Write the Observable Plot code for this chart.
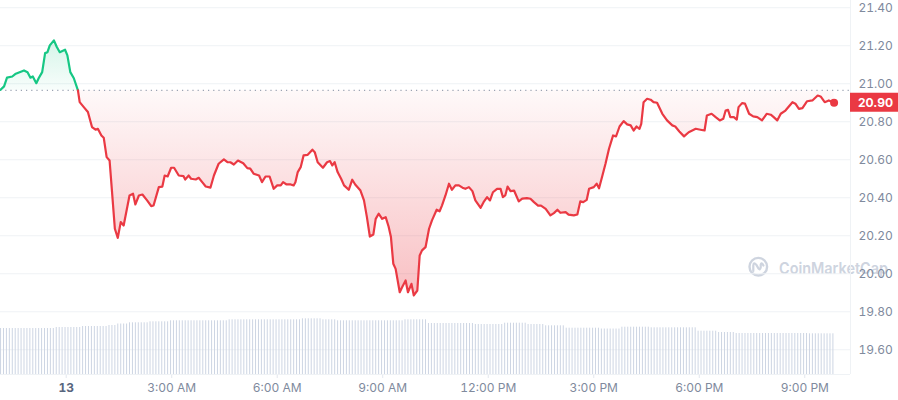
<!DOCTYPE html>
<html><head><meta charset="utf-8">
<script src="https://cdn.jsdelivr.net/npm/d3@7"></script>
<script src="https://cdn.jsdelivr.net/npm/@observablehq/plot@0.6"></script>
<style>
body{margin:0;background:#fff;font-family:Inter,"Noto Sans",sans-serif;}
#wrap{position:relative;width:898px;height:400px;overflow:hidden;}
#wrap svg{position:absolute;left:0;top:0;}
#wrap [aria-label="x-axis tick"]{stroke:#e3e7ee;}
</style></head><body><div id="wrap"></div>
<script>
// minutes relative to 00:00 on the 13th
const minutes = [
-112,-106,-101,-92,-86,-72,-66,-61,-57,-51,
-47,-41,-36,-32,-28,-21,-16,-11,-2,2,
7,13,20,23,30,37,44,50,54,60,
64,69,74,78,83,88,93,98,108,114,
118,124,130,138,145,149,158,164,168,173,
179,184,192,200,203,209,213,221,226,232,
238,246,252,260,269,275,280,286,293,302,
309,314,320,329,334,340,347,354,360,366,
370,376,383,388,391,395,400,405,412,420,
424,429,438,445,450,454,458,463,469,474,
482,488,493,502,508,513,518,524,528,533,
539,545,550,554,558,562,569,573,579,583,
589,593,599,603,607,613,619,624,632,637,
641,647,653,658,664,670,676,681,687,693,
698,707,712,718,723,728,735,741,745,749,
753,758,764,772,778,786,792,798,805,810,
818,826,832,838,843,852,857,866,872,877,
882,888,892,900,905,909,914,920,926,933,
938,944,951,957,963,968,973,978,981,985,
991,997,1002,1008,1017,1025,1034,1039,1046,1054,
1062,1074,1082,1089,1093,1101,1108,1115,1121,1125,
1129,1133,1139,1144,1147,1153,1158,1165,1172,1179,
1187,1195,1202,1207,1213,1219,1227,1239,1244,1250,
1256,1264,1273,1282,1287,1294,1301,1310];
const prices = [
20.968,20.986,21.032,21.038,21.053,21.070,21.061,21.032,21.038,21.003,
21.029,21.061,21.161,21.166,21.202,21.228,21.193,21.166,21.179,21.149,
21.061,21.029,20.965,20.903,20.877,20.851,20.772,20.758,20.763,20.728,
20.716,20.614,20.596,20.438,20.237,20.189,20.272,20.254,20.412,20.421,
20.365,20.412,20.417,20.386,20.356,20.359,20.456,20.459,20.517,20.512,
20.558,20.558,20.517,20.514,20.496,20.517,20.500,20.496,20.505,20.482,
20.459,20.453,20.517,20.579,20.602,20.587,20.587,20.575,20.596,20.582,
20.556,20.553,20.526,20.517,20.482,20.512,20.512,20.447,20.465,20.465,
20.482,20.470,20.470,20.465,20.482,20.535,20.561,20.623,20.626,20.653,
20.640,20.587,20.558,20.587,20.593,20.570,20.587,20.535,20.500,20.465,
20.442,20.495,20.470,20.438,20.386,20.298,20.196,20.207,20.289,20.316,
20.289,20.298,20.249,20.193,20.053,20.026,19.903,19.929,19.965,19.903,
19.947,19.886,19.912,20.096,20.123,20.140,20.237,20.281,20.337,20.329,
20.359,20.412,20.474,20.442,20.465,20.465,20.453,20.447,20.456,20.435,
20.386,20.347,20.377,20.403,20.386,20.429,20.447,20.447,20.403,20.412,
20.459,20.435,20.438,20.381,20.395,20.398,20.395,20.377,20.359,20.359,
20.342,20.307,20.319,20.337,20.321,20.324,20.311,20.307,20.312,20.381,
20.377,20.389,20.447,20.456,20.474,20.450,20.508,20.579,20.658,20.728,
20.723,20.775,20.803,20.786,20.781,20.754,20.775,20.763,20.789,20.903,
20.921,20.916,20.903,20.900,20.842,20.807,20.781,20.775,20.749,20.723,
20.745,20.763,20.758,20.754,20.833,20.842,20.824,20.807,20.816,20.859,
20.863,20.824,20.824,20.811,20.877,20.898,20.895,20.842,20.828,20.824,
20.807,20.842,20.837,20.824,20.807,20.842,20.859,20.903,20.895,20.868,
20.872,20.908,20.912,20.938,20.933,20.903,20.912,20.900];
const openPrice = 20.965;

// volume (relative units), step levels starting at given minute
const volStart = [-112,-18,28,70,84,105,140,178,275,403,434,463,574,615,698,746,784,818,852,912,946,997,1077,1111,1142,1265];
const volValue = [46,47,48,49,50.5,51.7,52.7,53.7,54.7,55.7,54.7,53.7,54.7,51,50,51.3,50,48.7,46.3,45.5,47.3,46.7,43.3,42,41,40.7];
const volFirstBar = -112, volLastBar = 1308, volStep = 5;

const yTicks = [19.6, 19.8, 20.0, 20.2, 20.4, 20.6, 20.8, 21.0, 21.2, 21.4];
const xTickHours = [0, 3, 6, 9, 12, 15, 18, 21];
const xTickLabels = ["13", "3:00 AM", "6:00 AM", "9:00 AM", "12:00 PM", "3:00 PM", "6:00 PM", "9:00 PM"];

const base = Date.UTC(2024, 1, 13);
const toDate = m => new Date(base + m * 60000);
const data = minutes.map((m, i) => ({t: toDate(m), p: prices[i]}));
const k = data.findIndex(d => d.p <= openPrice);
const green = data.slice(0, k + 1), red = data.slice(k);
const last = data[data.length - 1];

const bars = [];
for (let m = volFirstBar; m <= volLastBar; m += volStep) {
  let j = 0;
  while (j + 1 < volStart.length && volStart[j + 1] <= m) j++;
  bars.push({t: toDate(m), v: volValue[j]});
}

const xDomain = [toDate(-112.1), toDate(1338)];
const yDomain = [19.47, 21.438];
const W = 898, H = 400, mR = 48, mB = 26;
const grid = "#eff2f5";

const price = Plot.plot({
  width: W, height: H, marginLeft: 0, marginRight: mR, marginTop: 0, marginBottom: mB,
  style: {background: "transparent", color: "#808a9d", fontFamily: "Inter, sans-serif", fontSize: "12px"},
  x: {type: "utc", domain: xDomain, ticks: xTickHours.map(h => toDate(h * 60)),
      tickFormat: d => xTickLabels[xTickHours.indexOf(d.getUTCHours())], tickSize: 4, tickPadding: 5, label: null},
  y: {domain: yDomain, axis: "right", ticks: yTicks, tickFormat: d => d.toFixed(2), tickSize: 0, tickPadding: 8, label: null},
  marks: [
    Plot.ruleY(yTicks, {stroke: grid}),
    Plot.ruleY([yDomain[0]], {stroke: grid}),
    Plot.ruleX([xDomain[1]], {stroke: grid}),
    Plot.areaY(green, {x: "t", y1: openPrice, y2: "p", fill: "url(#gradGreen)"}),
    Plot.areaY(red, {x: "t", y1: openPrice, y2: "p", fill: "url(#gradRed)"}),
    Plot.ruleY([openPrice], {stroke: "#9aa3b2", strokeDasharray: "1.2,4", strokeWidth: 1.2}),
    Plot.line(green, {x: "t", y: "p", stroke: "#16c784", strokeWidth: 2.2}),
    Plot.line(red, {x: "t", y: "p", stroke: "#ea3943", strokeWidth: 2.2}),
    Plot.dot([last], {x: "t", y: "p", r: 4, fill: "#ea3943"})
  ]
});

const vol = Plot.plot({
  width: W, height: H, marginLeft: 0, marginRight: mR, marginTop: 274, marginBottom: mB,
  style: {background: "transparent"},
  x: {type: "utc", domain: xDomain, axis: null},
  y: {domain: [0, 100], axis: null},
  marks: [Plot.ruleX(bars, {x: "t", y1: 0, y2: "v", stroke: "#cdd5e3", strokeWidth: 1})]
});

const wrap = document.getElementById("wrap");
wrap.appendChild(price);
wrap.appendChild(vol);

const svg = d3.select(price);
const ys = price.scale("y");
const defs = svg.insert("defs", ":first-child");
const gr = defs.append("linearGradient").attr("id", "gradRed").attr("gradientUnits", "userSpaceOnUse")
  .attr("x1", 0).attr("x2", 0).attr("y1", ys.apply(openPrice)).attr("y2", ys.apply(19.88));
gr.append("stop").attr("offset", 0).attr("stop-color", "#ea3943").attr("stop-opacity", 0.03);
gr.append("stop").attr("offset", 1).attr("stop-color", "#ea3943").attr("stop-opacity", 0.32);
const gg = defs.append("linearGradient").attr("id", "gradGreen").attr("gradientUnits", "userSpaceOnUse")
  .attr("x1", 0).attr("x2", 0).attr("y1", ys.apply(21.23)).attr("y2", ys.apply(openPrice));
gg.append("stop").attr("offset", 0).attr("stop-color", "#16c784").attr("stop-opacity", 0.18);
gg.append("stop").attr("offset", 1).attr("stop-color", "#16c784").attr("stop-opacity", 0.03);

// watermark (drawn beneath the axis labels)
const wm = svg.insert("g", "defs + *").attr("fill", "none").attr("opacity", 0.9);
wm.append("circle").attr("cx", 758.3).attr("cy", 266.7).attr("r", 8.8).attr("stroke", "#c9d0dc").attr("stroke-width", 2.4);
wm.append("path").attr("d", "M753.3,271 V265.5 Q753.6,261.6 756.2,264.6 L758.6,268.6 Q760,270.4 760.7,267.5 V264.8 Q761.4,261.5 763.4,265.5")
  .attr("stroke", "#c9d0dc").attr("stroke-width", 2.2).attr("stroke-linecap", "round").attr("stroke-linejoin", "round");
wm.append("text").attr("x", 779).attr("y", 273.5).attr("fill", "#c9d0dc").attr("stroke", "none")
  .attr("text-anchor", "start")
  .attr("font-family", "Inter, sans-serif").attr("font-size", 16).attr("font-weight", 600)
  .attr("textLength", 109).attr("lengthAdjust", "spacingAndGlyphs").text("CoinMarketCap");

// bold day label
svg.selectAll("text").filter(function() { return this.textContent === "13"; })
  .attr("font-weight", "bold").attr("fill", "#58667e");

// current price label
const yLast = ys.apply(last.p);
svg.append("rect").attr("x", 850).attr("y", yLast - 9.5).attr("width", 48).attr("height", 19).attr("fill", "#ea3943");
svg.append("text").attr("x", 858).attr("y", yLast).attr("dy", "0.36em").attr("fill", "#fff")
  .attr("text-anchor", "start")
  .attr("font-family", "Inter, sans-serif").attr("font-size", 12).attr("font-weight", 700).text(last.p.toFixed(2));
</script></body></html>
